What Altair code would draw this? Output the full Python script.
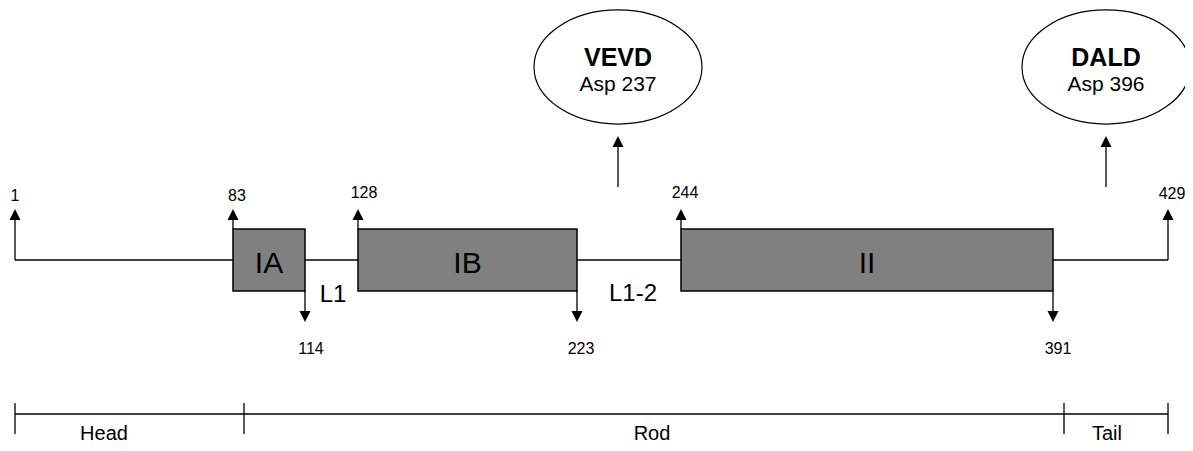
import altair as alt
import pandas as pd

# ---- diagram data (schematic x positions in diagram units) ----
backbone_start = [15, 305, 577, 1053]
backbone_end = [233, 358, 681, 1168]
backbone_y = 260

domain_names = ["IA", "IB", "II"]
domain_start = [233, 358, 681]
domain_end = [305, 577, 1053]
domain_top, domain_bottom = 229, 291

up_residues = ["1", "83", "128", "244", "429"]
up_x = [15, 233, 358, 681, 1168]
up_from = [260, 229, 229, 229, 260]
up_label_x = [15, 237, 364, 685, 1172]
up_label_y = [196, 196, 193, 193, 194]

down_residues = ["114", "223", "391"]
down_x = [305, 577, 1053]
down_label_x = [311, 581, 1058]

loop_names = ["L1", "L1-2"]
loop_x = [333, 633]
loop_y = [295, 294]

motif_names = ["VEVD", "DALD"]
motif_sites = ["Asp 237", "Asp 396"]
motif_x = [618, 1106]

region_names = ["Head", "Rod", "Tail"]
region_start = [15, 244, 1064]
region_end = [244, 1064, 1168]
region_label_x = [104, 652, 1107]

FONT = "Liberation Sans"

xs = alt.Scale(domain=[8, 1185], nice=False, zero=False)
ys = alt.Scale(domain=[8, 443], nice=False, zero=False, reverse=True)

def X(f="x"):
    return alt.X(f"{f}:Q", scale=xs, axis=None)

def Y(f="y"):
    return alt.Y(f"{f}:Q", scale=ys, axis=None)

# ---- line segments ----
segs = []
for a, b in zip(backbone_start, backbone_end):
    segs.append(dict(x=a, x2=b, y=backbone_y, y2=backbone_y))
for x, f in zip(up_x, up_from):
    segs.append(dict(x=x, x2=x, y=f, y2=217))
for x in down_x:
    segs.append(dict(x=x, x2=x, y=domain_bottom, y2=313))
for x in motif_x:
    segs.append(dict(x=x, x2=x, y=187, y2=144))
segs.append(dict(x=region_start[0], x2=region_end[-1], y=414, y2=414))
for x in region_start + [region_end[-1]]:
    segs.append(dict(x=x, x2=x, y=403, y2=434))
seg_df = pd.DataFrame(segs)

lines = alt.Chart(seg_df).mark_rule(color="black", strokeWidth=1.3).encode(
    x=X("x"), x2="x2:Q", y=Y("y"), y2="y2:Q"
)

dom_df = pd.DataFrame(dict(name=domain_names, x=domain_start, x2=domain_end,
                           y=[domain_top] * 3, y2=[domain_bottom] * 3))
boxes = alt.Chart(dom_df).mark_rect(fill="#808080", stroke="black", strokeWidth=1.5).encode(
    x=X("x"), x2="x2:Q", y=Y("y"), y2="y2:Q"
)
dom_df["cx"] = (dom_df["x"] + dom_df["x2"]) / 2
dom_df["cy"] = 264
box_text = alt.Chart(dom_df).mark_text(font=FONT, fontSize=30, color="black",
                                       baseline="middle", align="center").encode(
    x=X("cx"), y=Y("cy"), text="name:N"
)

UP = "M0,-1L1,1L-1,1Z"
DOWN = "M0,1L1,-1L-1,-1Z"
up_df = pd.DataFrame(dict(x=up_x + motif_x, y=[214.5] * 5 + [141.5] * 2))
down_df = pd.DataFrame(dict(x=down_x, y=[316.5] * 3))
up_heads = alt.Chart(up_df).mark_point(shape=UP, filled=True, size=121, color="black",
                                       opacity=1, strokeWidth=0).encode(x=X(), y=Y())
down_heads = alt.Chart(down_df).mark_point(shape=DOWN, filled=True, size=121, color="black",
                                           opacity=1, strokeWidth=0).encode(x=X(), y=Y())

num_df = pd.DataFrame(dict(t=up_residues + down_residues,
                           x=up_label_x + down_label_x,
                           y=up_label_y + [349] * 3))
nums = alt.Chart(num_df).mark_text(font=FONT, fontSize=16, color="black",
                                   baseline="middle", align="center").encode(
    x=X(), y=Y(), text="t:N"
)

loop_df = pd.DataFrame(dict(t=loop_names, x=loop_x, y=loop_y))
loops = alt.Chart(loop_df).mark_text(font=FONT, fontSize=24, color="black",
                                     baseline="middle", align="center").encode(
    x=X(), y=Y(), text="t:N"
)

ELLIPSE = "M-1,0A1,0.679,0,1,1,1,0A1,0.679,0,1,1,-1,0Z"
mot_df = pd.DataFrame(dict(name=motif_names, site=motif_sites, x=motif_x,
                           y=[67, 67], yn=[58, 58], ys=[85, 85]))
ellipses = alt.Chart(mot_df).mark_point(shape=ELLIPSE, size=168 * 168, filled=False,
                                        color="black", opacity=1, strokeWidth=1.2).encode(
    x=X(), y=Y()
)
mot_name = alt.Chart(mot_df).mark_text(font=FONT, fontSize=25, fontWeight="bold",
                                       color="black", baseline="middle", align="center").encode(
    x=X(), y=Y("yn"), text="name:N"
)
mot_site = alt.Chart(mot_df).mark_text(font=FONT, fontSize=21, color="black",
                                       baseline="middle", align="center").encode(
    x=X(), y=Y("ys"), text="site:N"
)

reg_df = pd.DataFrame(dict(t=region_names, x=region_label_x, y=[434] * 3))
regions = alt.Chart(reg_df).mark_text(font=FONT, fontSize=20, color="black",
                                      baseline="middle", align="center").encode(
    x=X(), y=Y(), text="t:N"
)

chart = alt.layer(
    lines, boxes, box_text, up_heads, down_heads, nums, loops,
    ellipses, mot_name, mot_site, regions
).properties(
    width=1177, height=435, autosize="none", padding=0, background="white"
).configure_view(stroke=None)

chart.save("out.html", embed_options={"renderer": "svg", "actions": False})
